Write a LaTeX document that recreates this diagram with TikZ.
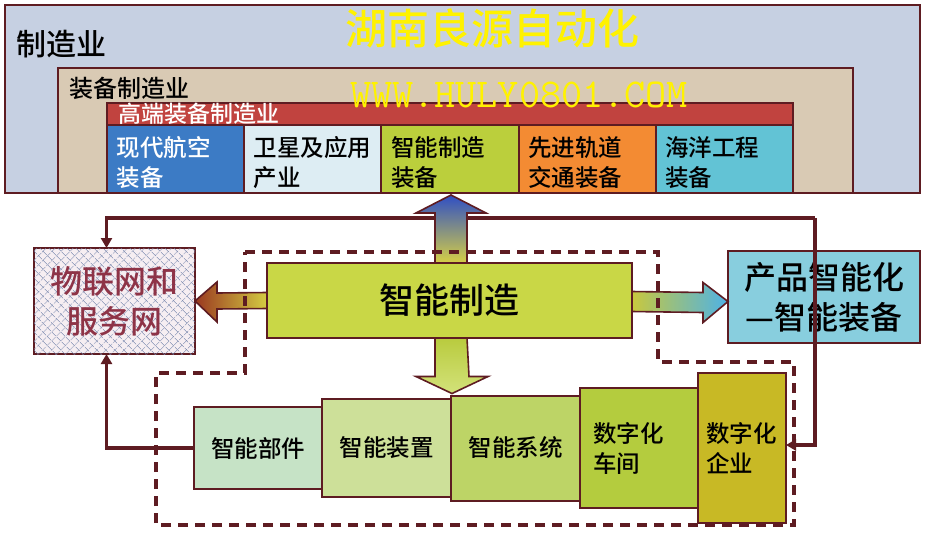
\documentclass[tikz,border=0pt]{standalone}
\usepackage{fontspec}
\setmainfont{Noto Sans CJK SC}[UprightFont=* Medium]
\usepackage{tikz}
\usetikzlibrary{positioning,calc,arrows.meta,patterns.meta}

\definecolor{frame}{HTML}{5E1C22}
\definecolor{mfgfill}{HTML}{C6D0E2}
\definecolor{eqfill}{HTML}{D9CAB4}
\definecolor{hired}{HTML}{C1433F}
\definecolor{aerofill}{HTML}{3C7BC5}
\definecolor{satfill}{HTML}{DDEDF3}
\definecolor{imefill}{HTML}{BBCF3C}
\definecolor{railfill}{HTML}{F38B33}
\definecolor{oceanfill}{HTML}{62C3D5}
\definecolor{iotfill}{HTML}{F6EEF2}
\definecolor{iottext}{HTML}{8E3347}
\definecolor{hatch}{HTML}{6E7FA8}
\definecolor{zzfill}{HTML}{C9D746}
\definecolor{pdfill}{HTML}{88CEDE}
\definecolor{partfill}{HTML}{C6E3C6}
\definecolor{devfill}{HTML}{CDE099}
\definecolor{sysfill}{HTML}{BDD466}
\definecolor{shopfill}{HTML}{B4CC3E}
\definecolor{entfill}{HTML}{C8B925}
\definecolor{upblue}{HTML}{2F4FC4}
\definecolor{upyel}{HTML}{D6CF45}
\definecolor{dngrn}{HTML}{B9CB3E}
\definecolor{dnlight}{HTML}{D3E27A}
\definecolor{lfbrown}{HTML}{9A3820}
\definecolor{lfyel}{HTML}{D4CC42}
\definecolor{rtyel}{HTML}{C8C83E}
\definecolor{rtcyan}{HTML}{4EB2E6}

\begin{document}
\begin{tikzpicture}[x=1pt,y=-1pt,
    box/.style={draw=frame, line width=2pt, inner sep=0pt, outer sep=0pt},
    cell/.style={box, minimum width=137.2pt, minimum height=68pt, text width=118pt,
                 align=left, font=\fontsize{23.5}{30}\selectfont,
                 execute at begin node={\rule{0pt}{27pt}}},
    tier/.style={box, text width=#1, align=left, font=\fontsize{23.5}{30}\selectfont},
    link/.style={draw=frame, line width=3.6pt, -{Triangle[length=10pt,width=11pt]}},
    zone/.style={draw=frame, line width=3.2pt, dash pattern=on 10pt off 7pt},
    fat/.style={draw=frame, line width=1.6pt}
]
\useasboundingbox[fill=white] (0,0) rectangle (925,536);

% manufacturing frames
\node[box, fill=mfgfill, minimum width=915pt, minimum height=188pt] (mfg) at (462.5,99) {};
\node[anchor=west, font=\fontsize{30}{30}\selectfont] (mfglabel) at (13,44) {制造业};
\node[font=\fontsize{42}{42}\selectfont, text=yellow] (brand) at (492,28) {湖南良源自动化};
\node[box, fill=eqfill, minimum width=795pt, minimum height=125pt] (equip) at (455.5,130.5) {};
\node[anchor=west, font=\fontsize{24}{24}\selectfont] (equiplabel) at (66,88) {装备制造业};
\node[box, fill=hired, minimum width=686pt, minimum height=22pt] (hi) at (450,114) {};
\node[anchor=west, text=white, font=\fontsize{23}{23}\selectfont] (hilabel) at (115,114) {高端装备制造业};

% high-end sectors
\node[cell, fill=aerofill, text=white, anchor=north west] (aero) at (107,125) {现代航空\\装备};
\node[cell, fill=satfill, right=0pt of aero] (sat) {卫星及应用\\产业};
\node[cell, fill=imefill, right=0pt of sat] (ime) {智能制造\\装备};
\node[cell, fill=railfill, right=0pt of ime] (rail) {先进轨道\\交通装备};
\node[cell, fill=oceanfill, right=0pt of rail] (ocean) {海洋工程\\装备};
\node[font=\ttfamily\fontsize{41}{41}\selectfont, text=yellow] (site) at (519,95) {WWW.HULY0801.COM};

% middle row
\node[box, fill=iotfill, minimum width=161pt, minimum height=106pt,
      postaction={pattern={Lines[angle=45,distance=6.5pt,line width=0.6pt]}, pattern color=hatch},
      postaction={pattern={Lines[angle=-45,distance=6.5pt,line width=0.6pt]}, pattern color=hatch}]
      (iot) at (114.5,301) {};
\node[align=center, text=iottext, font=\fontsize{32}{40}\selectfont] (iotlabel) at (iot) {物联网和\\服务网};
\node[box, fill=zzfill, minimum width=365pt, minimum height=75pt,
      font=\fontsize{35}{35}\selectfont] (zz) at (449.5,300.5) {智能制造};
\node[box, fill=pdfill, minimum width=192pt, minimum height=92pt, align=center,
      font=\fontsize{32}{40}\selectfont] (pd) at (824,297) {产品智能化\\—智能装备};

% bottom tiers
\node[tier=118pt, fill=partfill, minimum width=128pt, minimum height=82pt, align=center] (part) at (258,448) {智能部件};
\node[tier=119pt, fill=devfill, minimum width=129pt, minimum height=98pt, align=center, right=0pt of part] (dev) {智能装置};
\node[tier=119pt, fill=sysfill, minimum width=129pt, minimum height=105pt, align=center, right=0pt of dev] (sys) {智能系统};
\node[tier=92pt, fill=shopfill, minimum width=118pt, minimum height=120pt, right=0pt of sys] (shop) {数字化\\车间};
\node[tier=72pt, fill=entfill, minimum width=88pt, minimum height=150pt, right=0pt of shop] (ent) {数字化\\企业};

% feedback lines
\coordinate (jun) at (815,218);
\draw[link] (jun) -| ([xshift=-8pt]iot.north);
\draw[link] (jun) |- ([yshift=3pt]ent.east);
\draw[link] (part.west) -| ([xshift=-8pt]iot.south);

% fat arrows out of the core
\coordinate (uptip) at ($(zz.north |- mfg.south)+(1.5,2)$);
\shade[fat, top color=upblue, bottom color=upyel]
  ($(zz.north)+(-14.5,0)$) -- ($(uptip)+(-16,18)$) -- ($(uptip)+(-35,18)$) -- (uptip)
  -- ($(uptip)+(35,18)$) -- ($(uptip)+(16,18)$) -- ($(zz.north)+(17.5,0)$) -- cycle;
\coordinate (dntip) at ($(zz.south |- sys.north)+(2.5,-2)$);
\shade[fat, top color=dngrn, bottom color=dnlight]
  ($(zz.south)+(-14.5,0)$) -- ($(dntip)+(-17,-17)$) -- ($(dntip)+(-36,-17)$) -- (dntip)
  -- ($(dntip)+(36,-17)$) -- ($(dntip)+(17,-17)$) -- ($(zz.south)+(17.5,0)$) -- cycle;
\coordinate (lftip) at (iot.east);
\shade[fat, left color=lfbrown, right color=lfyel]
  ($(zz.west)+(0,-8)$) -- ($(lftip)+(22,-8)$) -- ($(lftip)+(22,-19)$) -- (lftip)
  -- ($(lftip)+(22,21)$) -- ($(lftip)+(22,8)$) -- ($(zz.west)+(0,8)$) -- cycle;
\coordinate (rttip) at ($(pd.west |- zz.east)+(0,1)$);
\shade[fat, left color=rtyel, right color=rtcyan]
  ($(zz.east)+(0,-9)$) -- ($(rttip)+(-25,-9)$) -- ($(rttip)+(-25,-19)$) -- (rttip)
  -- ($(rttip)+(-25,21)$) -- ($(rttip)+(-25,11)$) -- ($(zz.east)+(0,11)$) -- cycle;

% intelligent manufacturing zone
\draw[zone] (245,252) -- (658,252) -- (658,362) -- (794,362) -- (794,525)
  -- (156,525) -- (156,373) -- (245,373) -- cycle;
\end{tikzpicture}
\end{document}
